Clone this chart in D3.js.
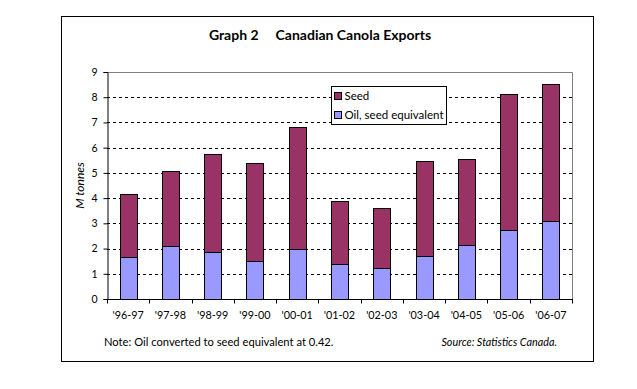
<!DOCTYPE html>
<html>
<head>
<meta charset="utf-8">
<script src="https://cdn.jsdelivr.net/npm/d3@7"></script>
<style>
  body { margin: 0; background: #fff; }
  text { font-family: Lato, "Open Sans", sans-serif; fill: #000; }
</style>
</head>
<body>
<div id="chart"></div>
<script>
// data (M tonnes)
const years = ["'96-97", "'97-98", "'98-99", "'99-00", "'00-01", "'01-02", "'02-03", "'03-04", "'04-05", "'05-06", "'06-07"]
const oil = [1.67, 2.10, 1.87, 1.51, 1.99, 1.39, 1.23, 1.71, 2.15, 2.75, 3.11]
const seed = [2.51, 2.96, 3.86, 3.87, 4.82, 2.51, 2.39, 3.75, 3.39, 5.37, 5.41]
const yTicks = [0, 1, 2, 3, 4, 5, 6, 7, 8, 9]

const W = 637, H = 389
const plot = { left: 107, right: 572, top: 72, bottom: 299 }

const svg = d3.select("#chart").append("svg")
  .attr("width", W).attr("height", H)

// outer frame
svg.append("rect")
  .attr("x", 61.5).attr("y", 16.5)
  .attr("width", 532).attr("height", 345)
  .attr("fill", "none").attr("stroke", "#000").attr("stroke-width", 1)

svg.append("text")
  .attr("x", 320).attr("y", 40)
  .attr("text-anchor", "middle")
  .style("font-size", "14px").style("font-weight", "bold")
  .attr("xml:space", "preserve")
  .text("Graph 2     Canadian Canola Exports")

const x = d3.scaleBand().domain(years).range([plot.left, plot.right]).paddingInner(0.6).paddingOuter(0.3)
const y = d3.scaleLinear().domain([0, 9]).range([plot.bottom, plot.top])

// gridlines
svg.append("g")
  .selectAll("line")
  .data(yTicks.filter(d => d > 0 && d < 9))
  .join("line")
  .attr("x1", plot.left).attr("x2", plot.right)
  .attr("y1", d => Math.round(y(d)) + 0.5).attr("y2", d => Math.round(y(d)) + 0.5)
  .attr("stroke", "#000").attr("stroke-dasharray", "3,3")

// top and right border of the plot area
svg.append("path")
  .attr("d", `M${plot.left},${plot.top + 0.5}H${plot.right + 0.5}V${plot.bottom}`)
  .attr("fill", "none").attr("stroke", "#808080")

// stacked bars
const stackData = years.map((yr, i) => ({ year: yr, oil: oil[i], seed: seed[i] }))
const series = d3.stack().keys(["oil", "seed"])(stackData)
const color = { oil: "#9999ff", seed: "#993366" }

svg.append("g")
  .selectAll("g")
  .data(series)
  .join("g")
  .attr("fill", d => color[d.key])
  .selectAll("rect")
  .data(d => d)
  .join("rect")
  .attr("x", d => Math.round(x(d.data.year)) + 0.5)
  .attr("width", Math.round(x.bandwidth()))
  .attr("y", d => Math.round(y(d[1])) + 0.5)
  .attr("height", d => Math.round(y(d[0])) - Math.round(y(d[1])))
  .attr("stroke", "#000").attr("stroke-width", 1)

// y axis
const yAxis = svg.append("g")
  .attr("transform", `translate(${plot.left + 0.5},0)`)
  .call(d3.axisLeft(y).tickValues(yTicks).tickSize(4).tickPadding(6))
yAxis.select(".domain").attr("stroke", "#000")
yAxis.selectAll("text").style("font-size", "10.5px")

// x axis, ticks between the categories
const bounds = d3.range(years.length + 1).map(i => plot.left + i * (plot.right - plot.left) / years.length)
const xg = svg.append("g").attr("transform", `translate(0,${plot.bottom + 0.5})`)
xg.append("line").attr("x1", plot.left).attr("x2", plot.right + 1).attr("stroke", "#000")
xg.selectAll(".tk").data(bounds).join("line")
  .attr("class", "tk")
  .attr("x1", d => Math.round(d) + 0.5).attr("x2", d => Math.round(d) + 0.5)
  .attr("y1", 0).attr("y2", 4).attr("stroke", "#000")
xg.selectAll(".lbl").data(years).join("text")
  .attr("class", "lbl")
  .attr("x", d => x(d) + x.bandwidth() / 2)
  .attr("y", 19)
  .attr("text-anchor", "middle")
  .style("font-size", "10.8px")
  .text(d => d)

svg.append("text")
  .attr("transform", `translate(84,${(plot.top + plot.bottom) / 2}) rotate(-90)`)
  .attr("text-anchor", "middle")
  .style("font-size", "12px").style("font-style", "italic")
  .text("M tonnes")

// legend
const lg = svg.append("g").attr("transform", "translate(331.5,86.5)")
lg.append("rect").attr("width", 115).attr("height", 38)
  .attr("fill", "#fff").attr("stroke", "#000")
const items = [["Seed", color.seed], ["Oil, seed equivalent", color.oil]]
items.forEach(([name, c], i) => {
  lg.append("rect").attr("x", 3).attr("y", 6 + i * 19).attr("width", 7).attr("height", 7)
    .attr("fill", c).attr("stroke", "#000")
  lg.append("text").attr("x", 13).attr("y", 13.5 + i * 19)
    .style("font-size", "11.5px").text(name)
})

svg.append("text")
  .attr("x", 104).attr("y", 346)
  .style("font-size", "11.2px")
  .text("Note: Oil converted to seed equivalent at 0.42.")

svg.append("text")
  .attr("x", 557).attr("y", 346)
  .attr("text-anchor", "end")
  .style("font-size", "10.8px").style("font-style", "italic")
  .text("Source: Statistics Canada.")
</script>
</body>
</html>
